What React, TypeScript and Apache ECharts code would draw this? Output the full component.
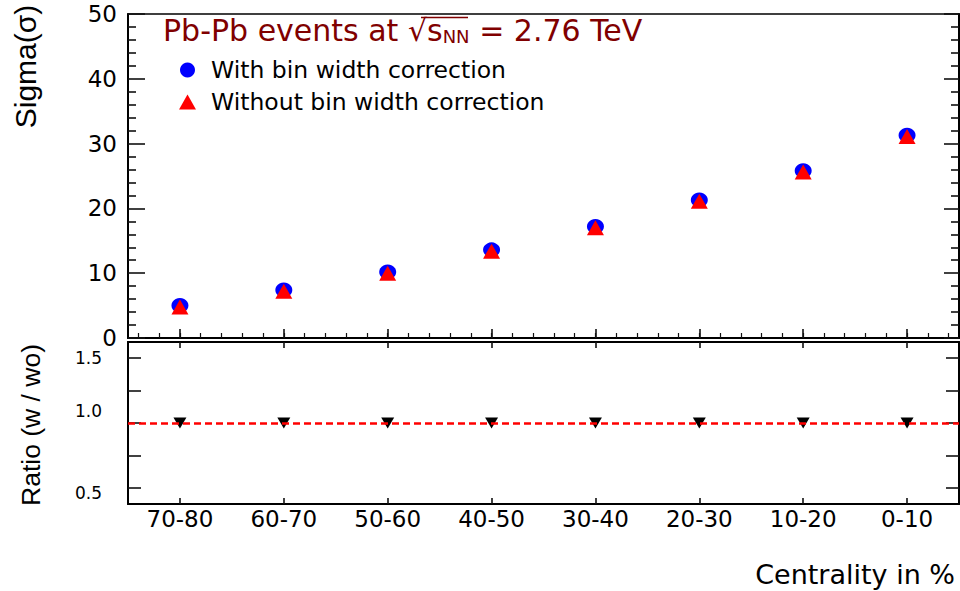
import React, { useEffect, useRef } from "react";
import * as echarts from "echarts";

const categories = ["70-80", "60-70", "50-60", "40-50", "30-40", "20-30", "10-20", "0-10"];
const withCorrection = [5.0, 7.4, 10.2, 13.6, 17.2, 21.3, 25.8, 31.3];
const withoutCorrection = [4.8, 7.2, 10.0, 13.4, 17.0, 21.1, 25.6, 31.1];
const ratio = [1.0, 1.0, 1.0, 1.0, 1.0, 1.0, 1.0, 1.0];
const ratioTicks = [0.5, 0.75, 1.0, 1.25, 1.5];
const ratioLabels = [0.5, 1.0, 1.5];
const minorXTicks: number[] = [];
for (let i = 0; i < 40; i++) minorXTicks.push(0.1 + i * 0.2);

const S1 = "With bin width correction";
const S2 = "Without bin width correction";
const FONT = "DejaVu Sans";
const VFONT = "Liberation Sans";
const DARKRED = "#800000";

export default function App() {
  const ref = useRef<HTMLDivElement>(null);
  useEffect(() => {
    const chart = echarts.init(ref.current!, null, { renderer: "svg" });
    const axisLine = { show: true, lineStyle: { color: "#000", width: 2 } };
    const tk = { color: "#111", width: 1.6 };
    const option: any = {
      animation: false,
      backgroundColor: "#fff",
      title: {
        left: 158,
        top: 6,
        text: "{a|Pb-Pb events at }{r|√}{a|s}{s|NN}{a| = 2.76 TeV}",
        textStyle: {
          fontWeight: "normal",
          rich: {
            a: { fontSize: 30, fontFamily: FONT, fontWeight: "normal", color: DARKRED, lineHeight: 34, verticalAlign: "bottom" },
            r: { fontSize: 30, fontFamily: FONT, fontWeight: "normal", color: DARKRED, lineHeight: 34, verticalAlign: "bottom" },
            s: { fontSize: 18, fontFamily: FONT, fontWeight: "normal", color: DARKRED, lineHeight: 14, verticalAlign: "bottom" },
          },
        },
      },
      legend: {
        left: 174,
        top: 53,
        orient: "vertical",
        itemWidth: 17,
        itemHeight: 15,
        itemGap: 8,
        data: [
          { name: S1, icon: "circle" },
          { name: S2, icon: "triangle" },
        ],
        itemStyle: { opacity: 1 },
        textStyle: { fontSize: 23.5, fontFamily: FONT, color: "#000", lineHeight: 24, padding: [0, 0, 0, 10] },
      },
      grid: [
        { left: 128, top: 14, width: 831, height: 324, show: true, borderColor: "#000", borderWidth: 1.5 },
        { left: 128, top: 342, width: 831, height: 162, show: true, borderColor: "#000", borderWidth: 1.5 },
      ],
      xAxis: [
        {
          type: "category", gridIndex: 0, position: "bottom", data: categories, boundaryGap: true,
          axisLine, axisTick: { show: true, inside: true, length: 9, alignWithLabel: true, lineStyle: tk },
          axisLabel: { show: false }, splitLine: { show: false },
        },
        {
          type: "value", gridIndex: 0, position: "bottom", min: 0, max: 8,
          axisLine: { show: false },
          axisTick: { show: true, inside: true, length: 5, customValues: minorXTicks, lineStyle: { color: "#111", width: 1.2 } },
          axisLabel: { show: false }, splitLine: { show: false },
        },
        {
          type: "category", gridIndex: 1, position: "bottom", data: categories, boundaryGap: true,
          axisLine, axisTick: { show: true, inside: true, length: 6, alignWithLabel: true, lineStyle: tk },
          axisLabel: { show: true, fontSize: 23, fontFamily: FONT, color: "#000", margin: 3 }, splitLine: { show: false },
        },
        {
          type: "category", gridIndex: 1, position: "top", data: categories, boundaryGap: true,
          axisLine, axisTick: { show: true, inside: true, length: 6, alignWithLabel: true, lineStyle: tk },
          axisLabel: { show: false }, splitLine: { show: false },
        },
      ],
      yAxis: [
        {
          type: "value", gridIndex: 0, position: "left", min: 0, max: 50, interval: 10,
          axisLine, axisTick: { show: true, inside: true, length: 17, lineStyle: tk },
          minorTick: { show: true, splitNumber: 5, length: 8, lineStyle: tk },
          axisLabel: { show: true, fontSize: 23, fontFamily: FONT, color: "#000", margin: 11 },
          splitLine: { show: false }, minorSplitLine: { show: false },
        },
        {
          type: "value", gridIndex: 0, position: "right", min: 0, max: 50, interval: 10,
          axisLine, axisTick: { show: true, inside: true, length: 15, lineStyle: tk },
          minorTick: { show: true, splitNumber: 5, length: 8, lineStyle: tk },
          axisLabel: { show: false }, splitLine: { show: false }, minorSplitLine: { show: false },
        },
        {
          type: "value", gridIndex: 1, position: "left", min: 0.375, max: 1.625,
          axisLine, axisTick: { show: true, inside: true, length: 13, customValues: ratioTicks, lineStyle: tk },
          axisLabel: {
            show: true, customValues: ratioLabels, fontSize: 17, fontFamily: FONT, color: "#000", margin: 26,
            formatter: (v: number) => (v === 1 ? "{m|1.0}" : v === 0.5 ? "{l|0.5}" : "{n|" + v.toFixed(1) + "}"),
            rich: {
              m: { fontSize: 17, fontFamily: FONT, color: "#000", padding: [0, 0, 24, 0] },
              l: { fontSize: 17, fontFamily: FONT, color: "#000", padding: [10, 0, 0, 0] },
              n: { fontSize: 17, fontFamily: FONT, color: "#000" },
            },
          },
          splitLine: { show: false },
        },
        {
          type: "value", gridIndex: 1, position: "right", min: 0.375, max: 1.625,
          axisLine, axisTick: { show: true, inside: true, length: 13, customValues: ratioTicks, lineStyle: tk },
          axisLabel: { show: false }, splitLine: { show: false },
        },
      ],
      graphic: [
        { type: "line", shape: { x1: 421, y1: 17.5, x2: 468, y2: 17.5 }, style: { stroke: DARKRED, lineWidth: 1.5 } },
        {
          type: "text", x: 25, y: 66.5, rotation: Math.PI / 2,
          style: { text: "Sigma(σ)", fontSize: 30, fontFamily: VFONT, fill: "#000", align: "center", verticalAlign: "middle" },
        },
        {
          type: "text", x: 31, y: 425, rotation: Math.PI / 2,
          style: { text: "Ratio (w / wo)", fontSize: 26.5, fontFamily: VFONT, fill: "#000", align: "center", verticalAlign: "middle" },
        },
        {
          type: "text", x: 955, y: 574,
          style: { text: "Centrality in %", fontSize: 27, fontFamily: FONT, fill: "#000", align: "right", verticalAlign: "middle" },
        },
      ],
      series: [
        {
          name: S1, type: "scatter", xAxisIndex: 0, yAxisIndex: 0, data: withCorrection,
          symbol: "circle", symbolSize: [17, 15], itemStyle: { color: "#0000ff", opacity: 1 }, z: 2,
        },
        {
          name: S2, type: "scatter", xAxisIndex: 0, yAxisIndex: 0, data: withoutCorrection,
          symbol: "triangle", symbolSize: [17, 15], itemStyle: { color: "#ff0000", opacity: 1 }, z: 3,
        },
        {
          type: "line", xAxisIndex: 2, yAxisIndex: 2, data: [], z: 1,
          markLine: {
            silent: true, symbol: "none", label: { show: false },
            lineStyle: { color: "#ff0000", type: [7, 4], width: 2.5, opacity: 1 },
            data: [{ yAxis: 1 }],
          },
        },
        {
          name: "Ratio", type: "scatter", xAxisIndex: 2, yAxisIndex: 2, data: ratio,
          symbol: "triangle", symbolRotate: 180, symbolSize: [13, 11], itemStyle: { color: "#000", opacity: 1 }, z: 4,
        },
      ],
    };
    chart.setOption(option);
    return () => chart.dispose();
  }, []);
  return <div ref={ref} style={{ position: "absolute", left: 0, top: 0, width: 960, height: 591 }} />;
}
